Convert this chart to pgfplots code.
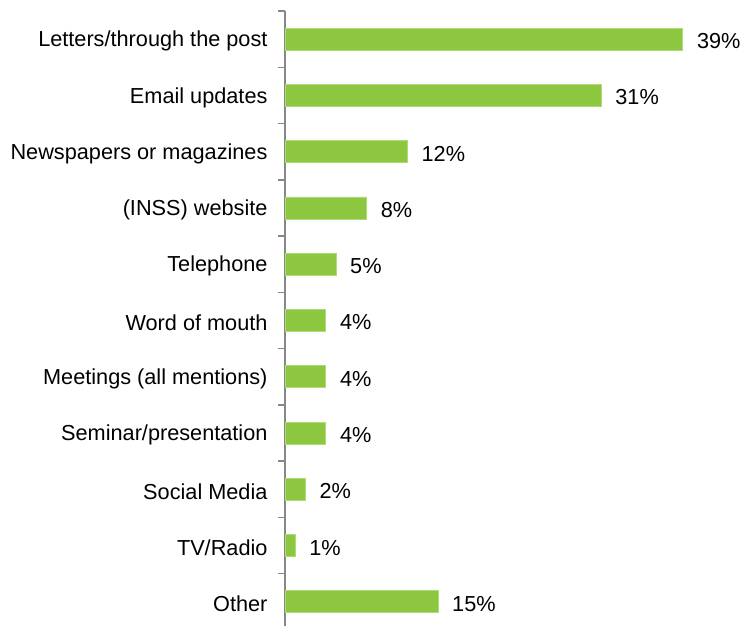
\documentclass[border=0pt]{standalone}
\usepackage{pgfplots}
\pgfplotsset{compat=1.18}
\usepackage{fontspec}
\setmainfont{Liberation Sans}
\definecolor{barg}{RGB}{141,198,63}
\definecolor{baredge}{RGB}{175,218,120}
\definecolor{axgray}{RGB}{135,135,135}
\begin{document}
\begin{tikzpicture}
\begin{axis}[
  at={(285pt,-4pt)}, anchor=south west,
  xbar,
  scale only axis,
  width=459pt, height=619pt,
  xmin=0, xmax=45,
  ymin=-0.5, ymax=10.5,
  y dir=reverse,
  axis x line=none,
  axis y line*=left,
  y axis line style={axgray, line width=1.5pt, -},
  ytick={0,...,10},
  yticklabels={Letters/through the post, Email updates, Newspapers or magazines, (INSS) website, Telephone, Word of mouth, Meetings (all mentions), Seminar/presentation, Social Media, TV/Radio, Other},
  minor ytick={-0.5,0.5,...,10.5},
  major tick length=0pt,
  minor tick length=7pt,
  tick align=outside,
  minor tick style={axgray, line width=1.5pt},
  yticklabel style={font=\fontsize{21.7}{25}\selectfont, anchor=east, xshift=-14pt, yshift=-2pt},
  bar width=22pt,
  clip=false,
  nodes near coords={\pgfmathprintnumber{\pgfplotspointmeta}\%},
  nodes near coords style={font=\fontsize{21.7}{25}\selectfont, anchor=west, xshift=10.5pt, yshift=-2pt},
  /pgf/number format/assume math mode=true,
]
\addplot[fill=barg, draw=baredge, line width=0.8pt] coordinates {
(39,0) (31,1) (12,2) (8,3) (5,4) (4,5) (4,6) (4,7) (2,8) (1,9) (15,10)
};
\end{axis}
\pgfresetboundingbox
\path[use as bounding box] (0,0) rectangle (744pt,626pt);
\end{tikzpicture}
\end{document}
